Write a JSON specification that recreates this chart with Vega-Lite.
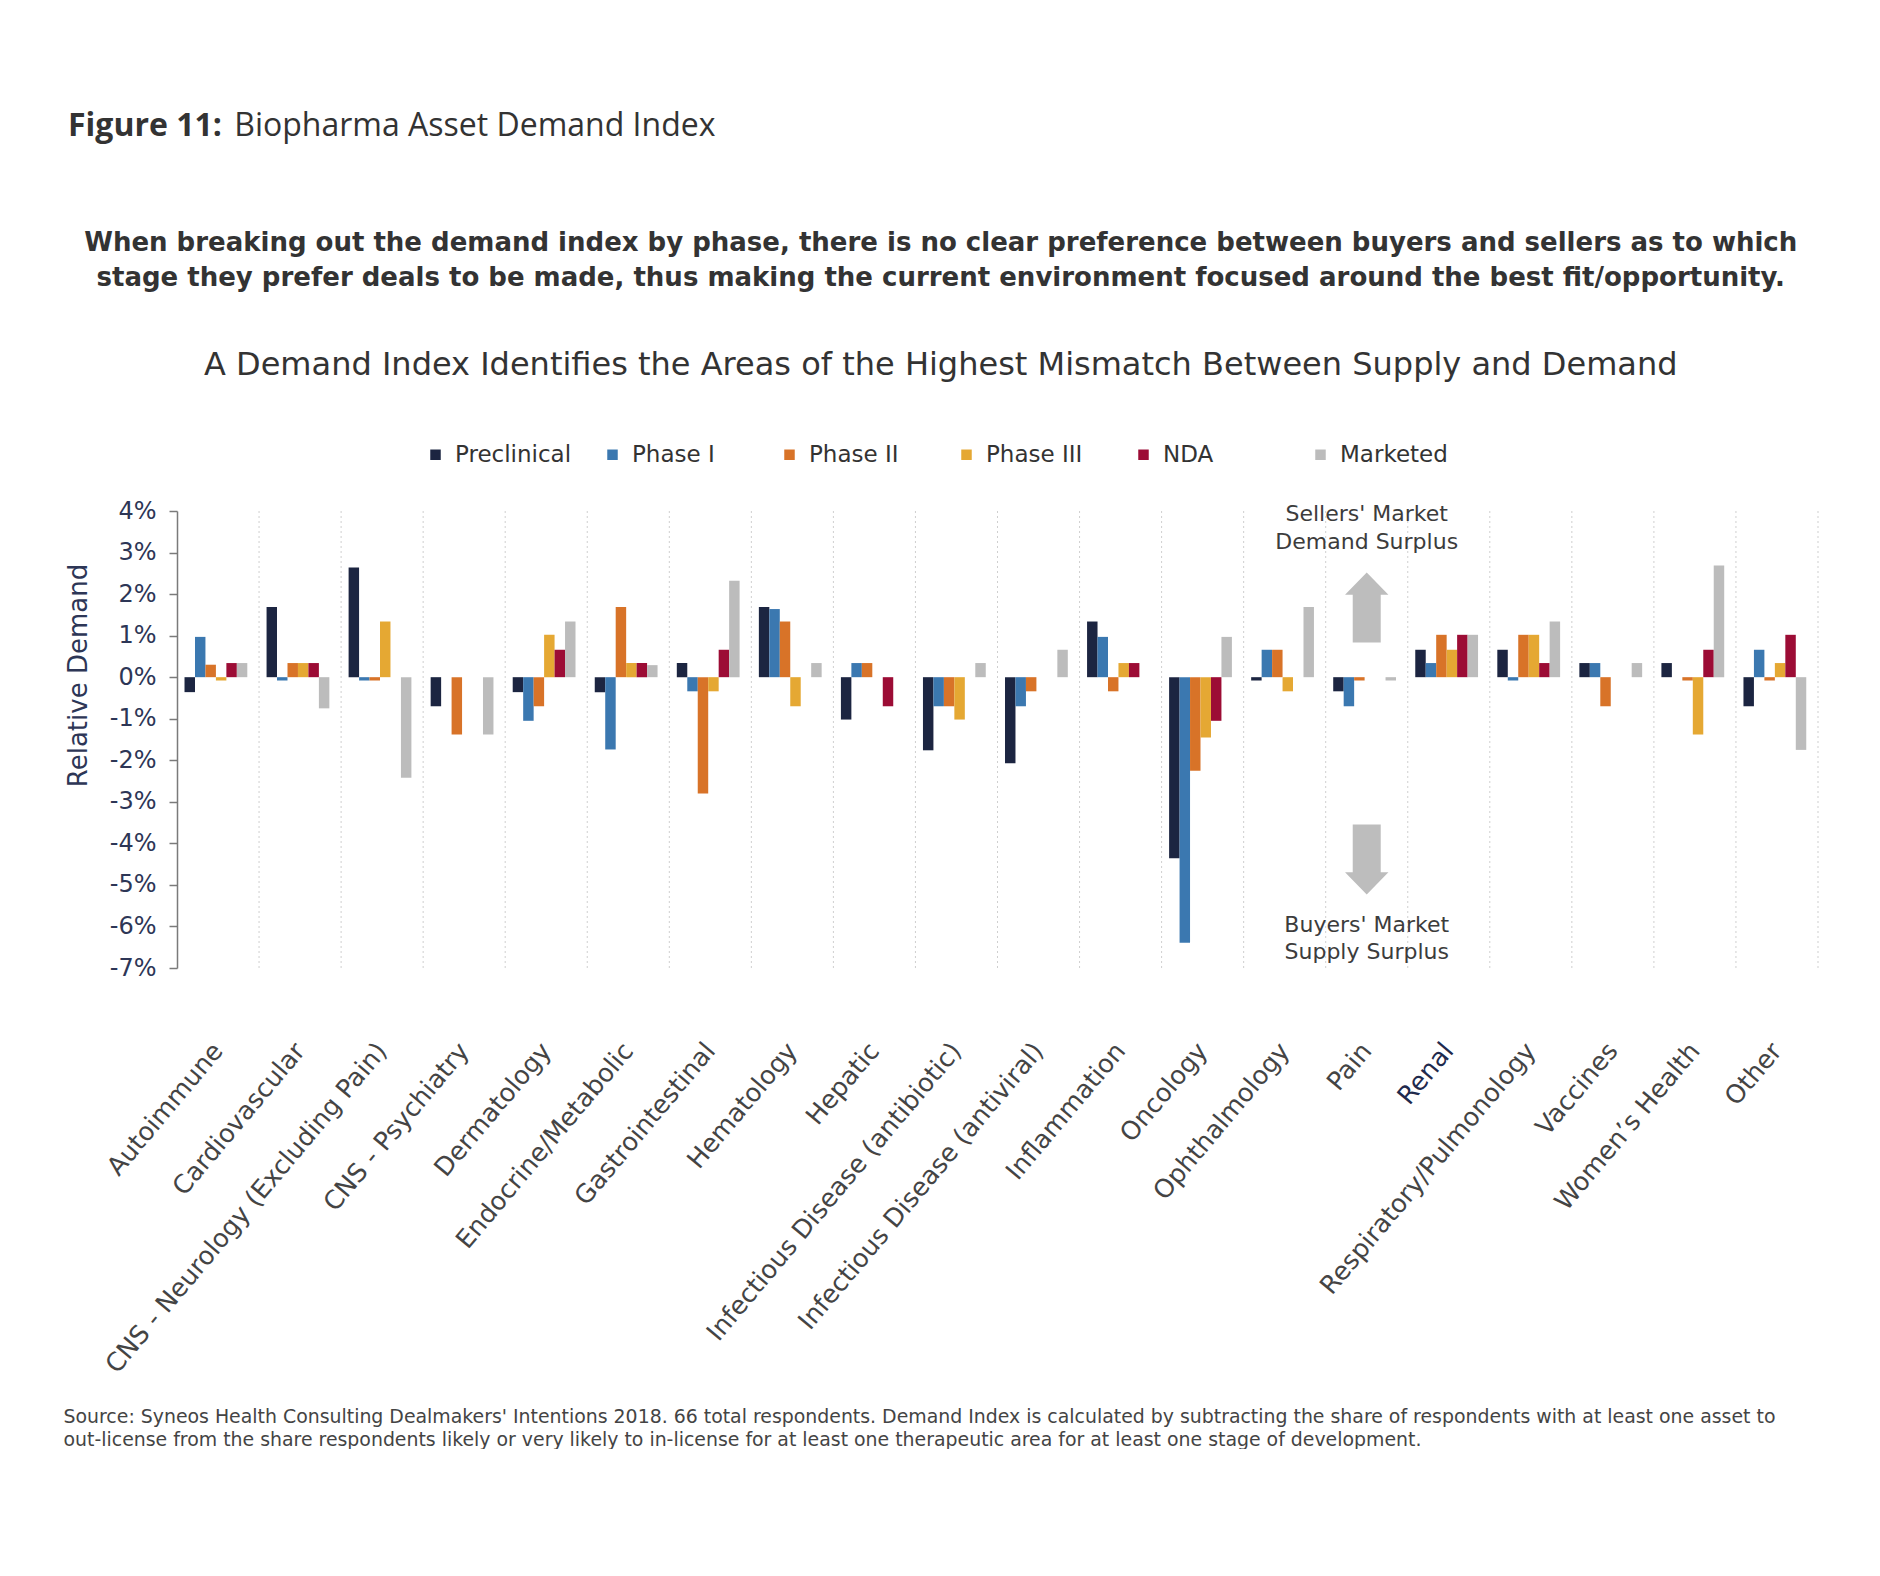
{
  "$schema": "https://vega.github.io/schema/vega-lite/v6.json",
  "background": "white",
  "padding": {"left": 63, "top": 110, "right": 0, "bottom": 0},
  "title": {
    "text": "Figure 11:",
    "subtitle": "\u200b\u00a0\u00a0\u00a0\u00a0\u00a0\u00a0\u00a0\u00a0\u00a0\u00a0\u00a0\u00a0\u00a0\u00a0\u00a0\u00a0\u00a0\u00a0\u00a0\u00a0Biopharma Asset Demand Index",
    "anchor": "start",
    "frame": "bounds",
    "dx": 5,
    "font": "Open Sans",
    "fontSize": 32,
    "fontWeight": "bold",
    "color": "#333333",
    "subtitleFont": "Open Sans",
    "subtitleFontSize": 32,
    "subtitleFontWeight": "normal",
    "subtitleColor": "#333333",
    "subtitlePadding": -32,
    "offset": 87
  },
  "datasets": {
    "bars": [
      {"c": "Autoimmune", "p": "Preclinical", "v": -0.36},
      {"c": "Autoimmune", "p": "Phase I", "v": 0.97},
      {"c": "Autoimmune", "p": "Phase II", "v": 0.3},
      {"c": "Autoimmune", "p": "Phase III", "v": -0.08},
      {"c": "Autoimmune", "p": "NDA", "v": 0.34},
      {"c": "Autoimmune", "p": "Marketed", "v": 0.34},
      {"c": "Cardiovascular", "p": "Preclinical", "v": 1.69},
      {"c": "Cardiovascular", "p": "Phase I", "v": -0.08},
      {"c": "Cardiovascular", "p": "Phase II", "v": 0.34},
      {"c": "Cardiovascular", "p": "Phase III", "v": 0.34},
      {"c": "Cardiovascular", "p": "NDA", "v": 0.34},
      {"c": "Cardiovascular", "p": "Marketed", "v": -0.75},
      {"c": "CNS - Neurology (Excluding Pain)", "p": "Preclinical", "v": 2.64},
      {"c": "CNS - Neurology (Excluding Pain)", "p": "Phase I", "v": -0.08},
      {"c": "CNS - Neurology (Excluding Pain)", "p": "Phase II", "v": -0.08},
      {"c": "CNS - Neurology (Excluding Pain)", "p": "Phase III", "v": 1.34},
      {"c": "CNS - Neurology (Excluding Pain)", "p": "NDA", "v": 0},
      {"c": "CNS - Neurology (Excluding Pain)", "p": "Marketed", "v": -2.42},
      {"c": "CNS - Psychiatry", "p": "Preclinical", "v": -0.7},
      {"c": "CNS - Psychiatry", "p": "Phase I", "v": 0},
      {"c": "CNS - Psychiatry", "p": "Phase II", "v": -1.38},
      {"c": "CNS - Psychiatry", "p": "Phase III", "v": 0},
      {"c": "CNS - Psychiatry", "p": "NDA", "v": 0},
      {"c": "CNS - Psychiatry", "p": "Marketed", "v": -1.38},
      {"c": "Dermatology", "p": "Preclinical", "v": -0.36},
      {"c": "Dermatology", "p": "Phase I", "v": -1.05},
      {"c": "Dermatology", "p": "Phase II", "v": -0.7},
      {"c": "Dermatology", "p": "Phase III", "v": 1.02},
      {"c": "Dermatology", "p": "NDA", "v": 0.66},
      {"c": "Dermatology", "p": "Marketed", "v": 1.34},
      {"c": "Endocrine/Metabolic", "p": "Preclinical", "v": -0.36},
      {"c": "Endocrine/Metabolic", "p": "Phase I", "v": -1.74},
      {"c": "Endocrine/Metabolic", "p": "Phase II", "v": 1.69},
      {"c": "Endocrine/Metabolic", "p": "Phase III", "v": 0.34},
      {"c": "Endocrine/Metabolic", "p": "NDA", "v": 0.34},
      {"c": "Endocrine/Metabolic", "p": "Marketed", "v": 0.29},
      {"c": "Gastrointestinal", "p": "Preclinical", "v": 0.34},
      {"c": "Gastrointestinal", "p": "Phase I", "v": -0.34},
      {"c": "Gastrointestinal", "p": "Phase II", "v": -2.8},
      {"c": "Gastrointestinal", "p": "Phase III", "v": -0.34},
      {"c": "Gastrointestinal", "p": "NDA", "v": 0.66},
      {"c": "Gastrointestinal", "p": "Marketed", "v": 2.32},
      {"c": "Hematology", "p": "Preclinical", "v": 1.69},
      {"c": "Hematology", "p": "Phase I", "v": 1.64},
      {"c": "Hematology", "p": "Phase II", "v": 1.34},
      {"c": "Hematology", "p": "Phase III", "v": -0.7},
      {"c": "Hematology", "p": "NDA", "v": 0},
      {"c": "Hematology", "p": "Marketed", "v": 0.34},
      {"c": "Hepatic", "p": "Preclinical", "v": -1.02},
      {"c": "Hepatic", "p": "Phase I", "v": 0.34},
      {"c": "Hepatic", "p": "Phase II", "v": 0.34},
      {"c": "Hepatic", "p": "Phase III", "v": 0},
      {"c": "Hepatic", "p": "NDA", "v": -0.7},
      {"c": "Hepatic", "p": "Marketed", "v": 0},
      {"c": "Infectious Disease (antibiotic)", "p": "Preclinical", "v": -1.76},
      {"c": "Infectious Disease (antibiotic)", "p": "Phase I", "v": -0.7},
      {"c": "Infectious Disease (antibiotic)", "p": "Phase II", "v": -0.7},
      {"c": "Infectious Disease (antibiotic)", "p": "Phase III", "v": -1.02},
      {"c": "Infectious Disease (antibiotic)", "p": "NDA", "v": 0},
      {"c": "Infectious Disease (antibiotic)", "p": "Marketed", "v": 0.34},
      {"c": "Infectious Disease (antiviral)", "p": "Preclinical", "v": -2.07},
      {"c": "Infectious Disease (antiviral)", "p": "Phase I", "v": -0.7},
      {"c": "Infectious Disease (antiviral)", "p": "Phase II", "v": -0.34},
      {"c": "Infectious Disease (antiviral)", "p": "Phase III", "v": 0},
      {"c": "Infectious Disease (antiviral)", "p": "NDA", "v": 0},
      {"c": "Infectious Disease (antiviral)", "p": "Marketed", "v": 0.66},
      {"c": "Inflammation", "p": "Preclinical", "v": 1.34},
      {"c": "Inflammation", "p": "Phase I", "v": 0.97},
      {"c": "Inflammation", "p": "Phase II", "v": -0.34},
      {"c": "Inflammation", "p": "Phase III", "v": 0.34},
      {"c": "Inflammation", "p": "NDA", "v": 0.34},
      {"c": "Inflammation", "p": "Marketed", "v": 0},
      {"c": "Oncology", "p": "Preclinical", "v": -4.36},
      {"c": "Oncology", "p": "Phase I", "v": -6.39},
      {"c": "Oncology", "p": "Phase II", "v": -2.25},
      {"c": "Oncology", "p": "Phase III", "v": -1.45},
      {"c": "Oncology", "p": "NDA", "v": -1.05},
      {"c": "Oncology", "p": "Marketed", "v": 0.97},
      {"c": "Ophthalmology", "p": "Preclinical", "v": -0.08},
      {"c": "Ophthalmology", "p": "Phase I", "v": 0.66},
      {"c": "Ophthalmology", "p": "Phase II", "v": 0.66},
      {"c": "Ophthalmology", "p": "Phase III", "v": -0.34},
      {"c": "Ophthalmology", "p": "NDA", "v": 0},
      {"c": "Ophthalmology", "p": "Marketed", "v": 1.69},
      {"c": "Pain", "p": "Preclinical", "v": -0.34},
      {"c": "Pain", "p": "Phase I", "v": -0.7},
      {"c": "Pain", "p": "Phase II", "v": -0.08},
      {"c": "Pain", "p": "Phase III", "v": 0},
      {"c": "Pain", "p": "NDA", "v": 0},
      {"c": "Pain", "p": "Marketed", "v": -0.08},
      {"c": "Renal", "p": "Preclinical", "v": 0.66},
      {"c": "Renal", "p": "Phase I", "v": 0.34},
      {"c": "Renal", "p": "Phase II", "v": 1.02},
      {"c": "Renal", "p": "Phase III", "v": 0.66},
      {"c": "Renal", "p": "NDA", "v": 1.02},
      {"c": "Renal", "p": "Marketed", "v": 1.02},
      {"c": "Respiratory/Pulmonology", "p": "Preclinical", "v": 0.66},
      {"c": "Respiratory/Pulmonology", "p": "Phase I", "v": -0.08},
      {"c": "Respiratory/Pulmonology", "p": "Phase II", "v": 1.02},
      {"c": "Respiratory/Pulmonology", "p": "Phase III", "v": 1.02},
      {"c": "Respiratory/Pulmonology", "p": "NDA", "v": 0.34},
      {"c": "Respiratory/Pulmonology", "p": "Marketed", "v": 1.34},
      {"c": "Vaccines", "p": "Preclinical", "v": 0.34},
      {"c": "Vaccines", "p": "Phase I", "v": 0.34},
      {"c": "Vaccines", "p": "Phase II", "v": -0.7},
      {"c": "Vaccines", "p": "Phase III", "v": 0},
      {"c": "Vaccines", "p": "NDA", "v": 0},
      {"c": "Vaccines", "p": "Marketed", "v": 0.34},
      {"c": "Women’s Health", "p": "Preclinical", "v": 0.34},
      {"c": "Women’s Health", "p": "Phase I", "v": 0},
      {"c": "Women’s Health", "p": "Phase II", "v": -0.08},
      {"c": "Women’s Health", "p": "Phase III", "v": -1.38},
      {"c": "Women’s Health", "p": "NDA", "v": 0.66},
      {"c": "Women’s Health", "p": "Marketed", "v": 2.69},
      {"c": "Other", "p": "Preclinical", "v": -0.7},
      {"c": "Other", "p": "Phase I", "v": 0.66},
      {"c": "Other", "p": "Phase II", "v": -0.08},
      {"c": "Other", "p": "Phase III", "v": 0.34},
      {"c": "Other", "p": "NDA", "v": 1.02},
      {"c": "Other", "p": "Marketed", "v": -1.75}
    ],
    "arrows": [
      {"c": "Pain", "y": 1.68, "dir": "up"},
      {"c": "Pain", "y": -4.39, "dir": "down"}
    ],
    "notes": [
      {"c": "Pain", "y": 3.92, "t": "Sellers' Market"},
      {"c": "Pain", "y": 3.25, "t": "Demand Surplus"},
      {"c": "Pain", "y": -5.96, "t": "Buyers' Market"},
      {"c": "Pain", "y": -6.61, "t": "Supply Surplus"}
    ]
  },
  "config": {
    "view": {"stroke": null},
    "font": "DejaVu Sans"
  },
  "vconcat": [
    {
      "width": 1641,
      "height": 457,
      "title": {
        "text": [
          "When breaking out the demand index by phase, there is no clear preference between buyers and sellers as to which",
          "stage they prefer deals to be made, thus making the current environment focused around the best fit/opportunity."
        ],
        "subtitle": "A Demand Index Identifies the Areas of the Highest Mismatch Between Supply and Demand",
        "anchor": "middle",
        "frame": "bounds",
        "font": "DejaVu Sans",
        "fontSize": 26,
        "fontWeight": "bold",
        "color": "#333333",
        "lineHeight": 35,
        "subtitleFont": "DejaVu Sans",
        "subtitleFontSize": 32,
        "subtitleColor": "#333333",
        "subtitlePadding": 59,
        "offset": 118
      },
      "layer": [
        {
          "data": {"name": "bars"},
          "transform": [{"filter": "datum.p === 'Preclinical'"}],
          "mark": {"type": "rule", "color": "#cfcfcf", "strokeDash": [2, 3], "strokeWidth": 1},
          "encoding": {
            "x": {
              "field": "c", "type": "nominal", "bandPosition": 1,
              "scale": {"domain": ["Autoimmune", "Cardiovascular", "CNS - Neurology (Excluding Pain)", "CNS - Psychiatry", "Dermatology", "Endocrine/Metabolic", "Gastrointestinal", "Hematology", "Hepatic", "Infectious Disease (antibiotic)", "Infectious Disease (antiviral)", "Inflammation", "Oncology", "Ophthalmology", "Pain", "Renal", "Respiratory/Pulmonology", "Vaccines", "Women’s Health", "Other"], "paddingInner": 0, "paddingOuter": 0}
            }
          }
        },
        {
          "data": {"name": "bars"},
          "mark": {"type": "bar"},
          "encoding": {
            "x": {
              "field": "c", "type": "nominal", "sort": null,
              "axis": {
                "domain": false, "ticks": false, "grid": false,
                "labelAngle": -50, "labelAlign": "right", "labelBaseline": "middle",
                "labelPadding": 78, "labelFont": "DejaVu Sans", "labelFontSize": 25.5,
                "labelColor": {"condition": {"test": "datum.value === 'Renal'", "value": "#1f2a4d"}, "value": "#444444"},
                "labelLimit": 600,
                "title": [
                  "Source: Syneos Health Consulting Dealmakers' Intentions 2018. 66 total respondents. Demand Index is calculated by subtracting the share of respondents with at least one asset to",
                  "out-license from the share respondents likely or very likely to in-license for at least one therapeutic area for at least one stage of development."
                ],
                "titleFont": "DejaVu Sans", "titleFontSize": 18.9, "titleFontWeight": "normal", "titleColor": "#444444",
                "titleAnchor": "start", "titleAlign": "left", "titleBaseline": "top",
                "titleX": -114, "titleY": 439, "titleLineHeight": 23
              }
            },
            "xOffset": {
              "field": "p", "type": "nominal",
              "sort": ["Preclinical", "Phase I", "Phase II", "Phase III", "NDA", "Marketed"],
              "scale": {"paddingInner": 0, "paddingOuter": 0.92, "align": 0.39}
            },
            "y": {
              "field": "v", "type": "quantitative",
              "scale": {"domain": [-7, 4], "nice": false, "zero": false},
              "axis": {
                "values": [-7, -6, -5, -4, -3, -2, -1, 0, 1, 2, 3, 4],
                "labelExpr": "datum.value + '%'",
                "grid": false, "domain": true, "domainColor": "#7a7a7a", "domainWidth": 1.5,
                "ticks": true, "tickColor": "#7a7a7a", "tickSize": 8, "tickWidth": 1.5,
                "labelPadding": 13, "labelFont": "DejaVu Sans", "labelFontSize": 24, "labelColor": "#2d3656",
                "title": "Relative Demand", "titleFont": "DejaVu Sans", "titleFontSize": 26,
                "titleFontWeight": "normal", "titleColor": "#2d3656", "titlePadding": 18,
                "titleY": 164
              }
            },
            "color": {
              "field": "p", "type": "nominal",
              "scale": {
                "domain": ["Preclinical", "Phase I", "Phase II", "Phase III", "NDA", "Marketed"],
                "range": ["#1c2541", "#3b78b0", "#d87328", "#e5a833", "#9c0c35", "#bcbcbc"]
              },
              "legend": {
                "title": null, "orient": "none", "direction": "horizontal", "columns": 6,
                "gridAlign": "all", "columnPadding": 29, "legendX": 247, "legendY": -68,
                "symbolType": "square", "symbolSize": 110, "symbolStrokeWidth": 0,
                "labelFont": "DejaVu Sans", "labelFontSize": 23, "labelColor": "#333333", "labelOffset": 8
              }
            }
          }
        },
        {
          "mark": {"type": "rule", "color": "#8a8a8a", "strokeWidth": 2},
          "encoding": {"y": {"datum": 0, "type": "quantitative"}}
        },
        {
          "data": {"name": "arrows"},
          "mark": {"type": "point", "filled": true, "opacity": 1, "color": "#bdbdbd", "size": 4900},
          "encoding": {
            "x": {"field": "c", "type": "nominal"},
            "y": {"field": "y", "type": "quantitative"},
            "shape": {
              "field": "dir", "type": "nominal", "legend": null,
              "scale": {"domain": ["up", "down"], "range": ["M0,-1L0.62,-0.36L0.4,-0.36L0.4,1L-0.4,1L-0.4,-0.36L-0.62,-0.36Z", "M0,1L0.62,0.36L0.4,0.36L0.4,-1L-0.4,-1L-0.4,0.36L-0.62,0.36Z"]}
            }
          }
        },
        {
          "data": {"name": "notes"},
          "mark": {"type": "text", "font": "DejaVu Sans", "fontSize": 22, "color": "#3c3c3c", "align": "center", "baseline": "middle"},
          "encoding": {
            "x": {"field": "c", "type": "nominal"},
            "y": {"field": "y", "type": "quantitative"},
            "text": {"field": "t"}
          }
        }
      ]
    }
  ]
}
